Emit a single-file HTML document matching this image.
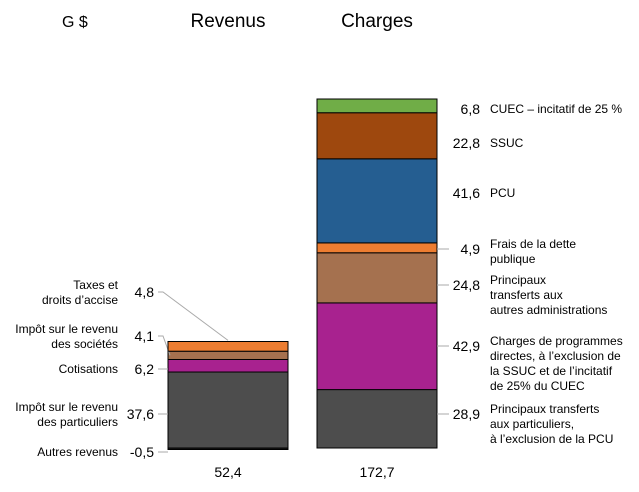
<!DOCTYPE html>
<html><head><meta charset="utf-8"><style>
body{margin:0;background:#fff;width:639px;height:492px;overflow:hidden}
svg{display:block;font-family:"Liberation Sans",sans-serif}
</style></head><body>
<svg id="c" width="639" height="492">
<text x="62" y="27" font-size="16" fill="#000">G $</text>
<text x="228" y="27" font-size="19" text-anchor="middle" fill="#000">Revenus</text>
<text x="377" y="27" font-size="19" text-anchor="middle" fill="#000">Charges</text>
</svg>
<script>
const revValues=[-0.5,37.6,6.2,4.1,4.8];
const revColors=["#1a1a1a","#4d4d4d","#a8228f","#a5714f","#ed7d31"];
const revLabels=[["Autres revenus"],["Impôt sur le revenu","des particuliers"],["Cotisations"],["Impôt sur le revenu","des sociétés"],["Taxes et","droits d’accise"]];
const revLabelY=[457,419,374,341,297];
const chgValues=[28.9,42.9,24.8,4.9,41.6,22.8,6.8];
const chgColors=["#4d4d4d","#a8228f","#a5714f","#ed7d31","#255e91","#9e480e","#70ad47"];
const chgLabels=[["Principaux transferts","aux particuliers,","à l’exclusion de la PCU"],["Charges de programmes","directes, à l’exclusion de","la SSUC et de l’incitatif","de 25% du CUEC"],["Principaux","transferts aux","autres administrations"],["Frais de la dette","publique"],["PCU"],["SSUC"],["CUEC – incitatif de 25 %"]];
const totals=["52,4","172,7"];
const svg=document.getElementById('c');const NS="http://www.w3.org/2000/svg";
const base=448,k=349/172.7;
const y=v=>base-v*k;
function el(t,a){const e=document.createElementNS(NS,t);for(const n in a)e.setAttribute(n,a[n]);svg.appendChild(e);return e;}
const fmt=v=>String(v).replace('.',',');
let cum=0;
revValues.forEach((v,i)=>{
 let y0,y1;
 if(v<0){y0=base;y1=base-v*k;}else{y0=y(cum+v);y1=y(cum);cum+=v;}
 const r=el('rect',{x:168,y:y0,width:120,height:Math.max(y1-y0,1.5),fill:revColors[i],stroke:'#000','stroke-width':1});
 
 
 const ly=revLabelY[i];const mid=(y0+y1)/2;
 const t=el('text',{x:154,y:ly,'font-size':14,'text-anchor':'end',fill:'#000'});t.textContent=fmt(v);
 
 
 const lines=revLabels[i];const n=lines.length;
 lines.forEach((s,j)=>{const tt=el('text',{x:118,y:(n==1?ly-1:ly-8+j*15),'font-size':12,'text-anchor':'end',fill:'#000'});tt.textContent=s;
  
  });
 const tx = i==4?228:(i==3?170:168);
 const l=el('polyline',{points:`158,${ly-5} 163,${ly-5} ${tx},${i>=3?mid-(i==4?6:0):ly-5}`,fill:'none',stroke:'#aaa','stroke-width':1});
 
 
});
cum=0;
const chgLabelY=[419,351,290,254,198,148,114];
chgValues.forEach((v,i)=>{
 const y0=y(cum+v),y1=y(cum);cum+=v;
 const r=el('rect',{x:317,y:y0,width:120,height:y1-y0,fill:chgColors[i],stroke:'#000','stroke-width':1});
 
 
 const ly=chgLabelY[i];
 const t=el('text',{x:480,y:ly,'font-size':14,'text-anchor':'end',fill:'#000'});t.textContent=fmt(v);
 
 
 const lines=chgLabels[i];
 lines.forEach((s,j)=>{const tt=el('text',{x:490,y:(lines.length==1?ly-1:ly-6)+j*15,'font-size':12,fill:'#000'});tt.textContent=s;
  
  });
 if(i<4){const l=el('line',{x1:437,y1:ly-5,x2:449,y2:ly-5,stroke:'#aaa','stroke-width':1});
  
  }
});
[[228,totals[0]],[377,totals[1]]].forEach(([x,s],i)=>{const t=el('text',{x:x,y:477,'font-size':14,'text-anchor':'middle',fill:'#000'});t.textContent=s;
 
 });
</script>
</body></html>
